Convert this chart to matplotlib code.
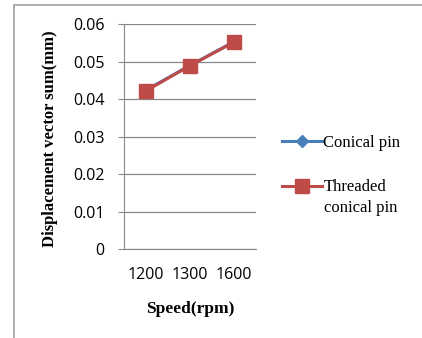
import matplotlib.pyplot as plt
from matplotlib.patches import Rectangle

speeds = ["1200", "1300", "1600"]
conical = [0.0424, 0.0490, 0.0553]
threaded = [0.0422, 0.0489, 0.0552]
yticks = [0, 0.01, 0.02, 0.03, 0.04, 0.05, 0.06]


def main():
    fig = plt.figure(figsize=(4.22, 3.38), dpi=100)
    fig.patches.append(Rectangle((0.033, -0.1), 1.2, 1.085, transform=fig.transFigure,
                                 fill=False, edgecolor="#a0a0a0", linewidth=1.2))

    ax = fig.add_axes([0.294, 0.263, 0.313, 0.666])
    x = range(len(speeds))
    ax.plot(x, conical, color="#4A7EBB", marker="D", markersize=6, linewidth=2.2,
            label="Conical pin")
    ax.plot(x, threaded, color="#BE4B48", marker="s", markersize=10, linewidth=2.2,
            label="Threaded")

    ax.set_xlim(-0.5, len(speeds) - 0.5)
    ax.set_ylim(0, 0.06)
    ax.set_yticks(yticks)
    ax.set_yticklabels(["0" if v == 0 else f"{v:.2f}" for v in yticks])
    ax.set_xticks(list(x))
    ax.set_xticklabels(speeds)
    ax.tick_params(axis="y", length=4, color="#888888", labelsize=11.5, pad=10)
    ax.tick_params(axis="x", length=0, labelsize=11.5, pad=13)
    for lab in ax.get_xticklabels() + ax.get_yticklabels():
        lab.set_fontfamily("Open Sans")

    ax.grid(axis="y", color="#888888", linewidth=0.9)
    ax.set_axisbelow(True)
    for side in ["top", "right"]:
        ax.spines[side].set_visible(False)
    for side in ["left", "bottom"]:
        ax.spines[side].set_color("#888888")

    ax.set_xlabel("Speed(rpm)", fontfamily="Liberation Serif", fontweight="bold",
                  fontsize=12.5)
    ax.xaxis.set_label_coords(0.5, -0.232)
    ax.set_ylabel("Displacement vector sum(mm)", fontfamily="Liberation Serif",
                  fontweight="bold", fontsize=12)
    ax.yaxis.set_label_coords(-0.50, 0.49)

    fig.legend(loc="upper left", bbox_to_anchor=(0.652, 0.620), frameon=False,
               borderaxespad=0, prop={"family": "Liberation Serif", "size": 12},
               handlelength=2.4, handletextpad=0.1, labelspacing=1.7)
    fig.text(0.768, 0.384, "conical pin", fontfamily="Liberation Serif", fontsize=12,
             va="center", ha="left")

    fig.savefig("out.png", dpi=100)


if __name__ == "__main__":
    main()
